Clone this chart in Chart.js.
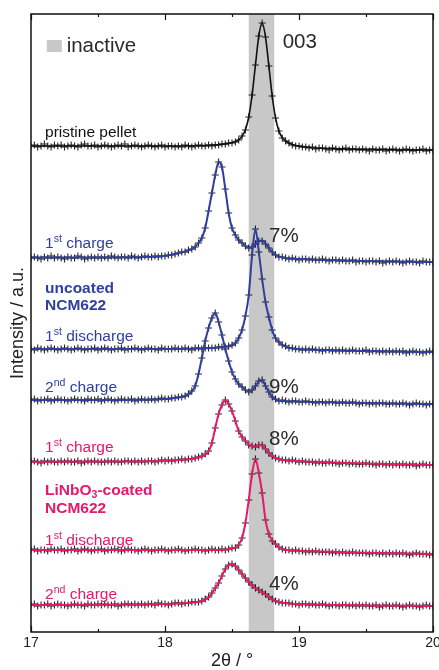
<!DOCTYPE html>
<html>
<head>
<meta charset="utf-8">
<script src="https://cdn.jsdelivr.net/npm/chart.js@4/dist/chart.umd.min.js"></script>
<style>
  html, body { margin: 0; padding: 0; background: #fff; }
  canvas { display: block; }
</style>
</head>
<body>
<canvas id="chart" width="439" height="670"></canvas>
<script>
// scan: 17.000 ... 20.000 deg 2theta, step 0.025 -> 121 points per pattern
const scanStart = 17;
const scanStep = 0.025;

// measured intensities (the + markers), 11 points per row
const pristineObs = [
  4,5,3,4,6,4,3,5,4,5,3,
  4,5,4,3,5,6,4,4,5,3,4,
  5,4,3,4,5,4,6,3,4,5,4,
  3,4,5,4,3,4,5,3,4,4,3,
  4,3,5,4,3,4,5,4,4,5,4,
  5,5,6,6,7,7,8,10,14,20,33,
  55,85,114,127,113,84,54,32,19,12,9,
  7,5,4,4,3,3,2,3,1,2,2,
  1,0,2,1,0,1,2,0,1,1,0,
  1,0,-1,1,0,0,1,-1,0,1,0,
  -1,0,1,0,-1,0,0,1,-1,0,0
];
const uncCharge1Obs = [
  4,5,4,3,5,4,6,4,5,4,3,
  5,4,4,6,5,3,4,5,4,5,4,
  5,4,6,5,4,5,5,4,6,5,4,
  5,6,5,5,6,5,6,6,7,7,8,
  9,10,10,12,13,15,19,24,34,51,69,
  87,100,95,73,49,34,27,22,19,16,14,
  15,18,21,21,18,14,10,7,5,5,4,
  3,4,3,2,3,3,2,3,2,2,3,
  2,1,2,2,1,2,1,1,2,0,1,
  1,0,1,1,0,1,-1,0,1,0,1,
  0,-1,0,1,0,0,-1,1,0,0,0
];
const uncDischarge1Obs = [
  3,2,4,3,2,3,4,3,2,3,4,
  3,2,3,4,3,2,3,3,4,2,3,
  4,3,2,3,3,4,2,3,3,4,3,
  2,3,4,3,3,2,4,3,3,3,4,
  3,3,4,3,2,4,4,3,4,4,4,
  4,5,5,5,6,7,9,14,22,36,57,
  97,123,100,73,50,35,22,14,10,7,6,
  4,4,3,3,2,3,2,3,2,2,1,
  2,2,1,2,1,2,1,1,2,1,1,
  1,2,0,1,1,0,1,0,1,0,1,
  0,1,-1,0,1,0,0,-1,0,1,0
];
const uncCharge2Obs = [
  4,5,3,4,4,5,3,4,5,4,4,
  3,4,5,4,4,3,5,4,4,5,3,
  4,5,4,3,4,5,4,4,5,3,4,
  5,4,4,5,4,5,6,5,5,6,6,
  7,7,8,10,13,18,30,46,63,76,86,
  91,82,69,55,43,32,25,20,17,14,12,
  14,18,23,24,18,12,7,5,3,4,3,
  2,3,3,2,2,3,2,2,1,2,2,
  1,2,2,1,1,2,1,1,2,1,0,
  1,1,0,1,0,1,1,0,0,1,0,
  0,1,0,-1,0,1,0,0,-1,0,0
];
const coatCharge1Obs = [
  3,4,3,2,4,3,4,3,3,4,3,
  4,3,3,4,2,3,4,3,4,3,3,
  3,4,3,4,3,3,4,4,3,4,3,
  4,3,4,4,3,4,5,4,5,4,5,
  5,6,5,6,6,7,8,9,11,14,22,
  37,51,60,65,61,54,44,34,28,24,20,
  19,18,20,20,16,12,9,7,6,5,5,
  4,5,4,3,4,3,3,3,2,3,2,
  2,3,2,2,1,2,2,1,2,1,1,
  1,2,1,1,0,1,1,0,1,0,1,
  0,1,0,0,1,-1,0,1,0,0,0
];
const coatDischarge1Obs = [
  4,5,3,4,4,3,5,4,4,5,3,
  4,4,5,3,4,5,4,3,4,4,5,
  3,4,4,5,4,3,4,5,4,4,3,
  4,5,4,3,4,4,5,4,3,4,4,
  5,4,3,4,4,5,4,4,3,4,5,
  4,4,5,4,5,6,6,9,16,31,54,
  80,95,81,61,34,20,13,10,7,5,4,
  4,3,4,3,3,2,3,2,3,2,2,
  2,2,1,2,1,2,1,1,2,1,1,
  1,1,0,1,1,0,1,0,1,0,1,
  0,1,0,-1,0,1,0,0,0,-1,0
];
const coatCharge2Obs = [
  1,2,0,1,1,2,0,1,2,1,1,
  0,1,2,1,1,0,2,1,1,2,1,
  2,1,1,2,0,1,2,2,1,2,1,
  2,1,2,2,1,3,2,2,1,2,3,
  3,2,3,3,4,4,4,5,7,9,13,
  18,23,30,37,41,42,40,36,32,28,24,
  21,18,16,14,12,9,7,5,4,3,3,
  3,2,2,1,2,2,1,2,1,1,2,
  1,0,1,1,0,1,1,0,1,0,1,
  0,1,0,0,1,-1,0,1,0,0,1,
  0,-1,0,1,0,0,-1,0,1,0,0
];

// fitted profiles (solid lines)
const fitTheta = [17, 17.5, 18, 18.1, 18.15,
  18.2, 18.225, 18.25, 18.275, 18.3, 18.325, 18.35, 18.375, 18.4, 18.425,
  18.45, 18.475, 18.5, 18.525, 18.55, 18.575, 18.6, 18.625, 18.65, 18.675,
  18.7, 18.725, 18.75, 18.775, 18.8, 18.825, 18.85, 18.875, 18.9,
  18.95, 19, 19.1, 19.25, 19.5, 20];
const pristineFit = [4, 4, 4, 4, 4.1,
  4.2, 4.25, 4.3, 4.4, 4.5, 4.7, 4.9, 5.1, 5.4, 5.7,
  6.1, 6.6, 7.3, 8.4, 10.2, 13.6, 20.3, 33, 55, 85,
  114, 127, 113, 84, 54, 32, 19, 12.4, 9,
  5.5, 3.9, 2.3, 1.4, 0.6, 0];
const uncCharge1Fit = [4.5, 4.5, 6, 9, 10.5,
  13, 15.5, 19, 24, 34, 51, 69, 87, 100, 95,
  73, 49, 34, 27, 22, 19, 16, 14, 15, 17.5,
  20.5, 21.5, 18.5, 14, 10, 7, 5.5, 4.5, 4,
  3.2, 3, 2.5, 1.8, 1, 0];
const uncDischarge1Fit = [3, 3, 3, 3.1, 3.2,
  3.3, 3.4, 3.5, 3.6, 3.7, 3.8, 4, 4.2, 4.5, 4.8,
  5.2, 5.7, 6.5, 9, 14, 22, 36, 57, 97, 123,
  100, 73, 50, 35, 22, 14, 10, 7, 5.5,
  3.5, 2.7, 2.3, 1.8, 1, 0];
const uncCharge2Fit = [4, 4, 5, 6.5, 8,
  12.5, 18, 30, 46, 63, 76, 86, 91, 82, 69,
  55, 43, 32, 25, 20, 17, 14, 12.5, 14, 18,
  22.5, 24, 18, 12, 7, 4.5, 3.2, 3, 2.8,
  2.5, 2.4, 2.1, 1.7, 1, 0];
const coatCharge1Fit = [3.3, 3.4, 4.2, 5, 5.5,
  6, 6.7, 7.5, 8.5, 10.5, 13.5, 22, 37, 51, 60,
  65, 61, 54, 44, 34, 28, 24, 20.5, 19, 18.5,
  20, 19.5, 16, 11.5, 9, 7, 6, 5, 4.7,
  4.2, 3.8, 3.2, 2.5, 1.4, 0];
const coatDischarge1Fit = [4, 4, 4, 4, 4,
  4, 4, 4, 4, 4, 4, 4, 4.1, 4.2, 4.3,
  4.6, 5, 5.6, 6.5, 9.5, 16, 31, 54, 80, 95,
  81, 61, 34, 20, 13.5, 10, 6.5, 5, 4.3,
  3.7, 3.3, 2.8, 2.2, 1.3, 0];
const coatCharge2Fit = [1, 1.2, 2, 2.5, 2.9,
  3.3, 3.7, 4.2, 5, 6.5, 8.5, 13, 18, 23, 30,
  37, 41, 42, 40, 36, 32, 28, 24, 20.5, 17.5,
  15.5, 13.5, 11.5, 9, 6.5, 5, 4, 3.3, 2.8,
  2.2, 1.9, 1.5, 1, 0.6, 0];

// stacking offsets, top pattern first
const offsets = [482, 370, 280, 228, 167, 78, 26];

// 2theta range of the inactive reflection
const inactiveBand = [18.625, 18.815];

const xTicksMajor = [17, 18, 19, 20];
const xTicksMinor = [17.5, 18.5, 19.5];

const percentTexts = ['7%', '9%', '8%', '4%'];

const FONT = '"Liberation Sans", Arial, Helvetica, sans-serif';
const BLUE = '#2f3f9f';
const PINK = '#e6186a';

const patterns = [
  {name: 'pristine pellet', obs: pristineObs, fit: pristineFit, color: '#111', width: 1.6},
  {name: 'uncoated 1st charge', obs: uncCharge1Obs, fit: uncCharge1Fit, color: BLUE, width: 2},
  {name: 'uncoated 1st discharge', obs: uncDischarge1Obs, fit: uncDischarge1Fit, color: BLUE, width: 2},
  {name: 'uncoated 2nd charge', obs: uncCharge2Obs, fit: uncCharge2Fit, color: BLUE, width: 2},
  {name: 'coated 1st charge', obs: coatCharge1Obs, fit: coatCharge1Fit, color: PINK, width: 2},
  {name: 'coated 1st discharge', obs: coatDischarge1Obs, fit: coatDischarge1Fit, color: PINK, width: 2},
  {name: 'coated 2nd charge', obs: coatCharge2Obs, fit: coatCharge2Fit, color: PINK, width: 2},
];

// text placed in data units (x = 2theta, y = stacked intensity)
const curveLabels = [
  {parts: [['pristine pellet']], y: 495, color: '#111'},
  {parts: [['1'], ['st', 'sup'], [' charge']], y: 384, color: BLUE},
  {parts: [['uncoated']], y: 339, color: BLUE, bold: true},
  {parts: [['NCM622']], y: 322, color: BLUE, bold: true},
  {parts: [['1'], ['st', 'sup'], [' discharge']], y: 291, color: BLUE},
  {parts: [['2'], ['nd', 'sup'], [' charge']], y: 240, color: BLUE},
  {parts: [['1'], ['st', 'sup'], [' charge']], y: 180, color: PINK},
  {parts: [['LiNbO'], ['3', 'sub'], ['-coated']], y: 137.5, color: PINK, bold: true},
  {parts: [['NCM622']], y: 119.5, color: PINK, bold: true},
  {parts: [['1'], ['st', 'sup'], [' discharge']], y: 87, color: PINK},
  {parts: [['2'], ['nd', 'sup'], [' charge']], y: 33, color: PINK},
];
const percentY = [390, 239, 187, 42];

function drawRich(ctx, x, y, parts, size, color, bold) {
  ctx.fillStyle = color;
  ctx.textAlign = 'left';
  ctx.textBaseline = 'alphabetic';
  for (const [t, kind] of parts) {
    const s = kind ? size * 0.68 : size;
    const dy = kind === 'sup' ? -size * 0.36 : kind === 'sub' ? size * 0.2 : 0;
    ctx.font = (bold ? 'bold ' : '') + s + 'px ' + FONT;
    ctx.fillText(t, x, y + dy);
    x += ctx.measureText(t).width;
  }
}

const decorations = {
  id: 'decorations',
  beforeDatasetsDraw(chart) {
    const {ctx, chartArea: a, scales: {x}} = chart;
    const x1 = x.getPixelForValue(inactiveBand[0]);
    const x2 = x.getPixelForValue(inactiveBand[1]);
    ctx.save();
    ctx.fillStyle = '#c8c8c8';
    ctx.fillRect(x1, a.top, x2 - x1, a.bottom - a.top);
    ctx.restore();
  },
  afterDatasetsDraw(chart) {
    const {ctx, chartArea: a, scales: {x, y}} = chart;
    ctx.save();

    // frame + inward ticks
    ctx.strokeStyle = '#111';
    ctx.lineWidth = 1.5;
    ctx.strokeRect(a.left, a.top, a.right - a.left, a.bottom - a.top);
    ctx.lineWidth = 1.2;
    const tick = (v, len) => {
      const px = Math.round(x.getPixelForValue(v)) + 0.5;
      ctx.beginPath();
      ctx.moveTo(px, a.bottom); ctx.lineTo(px, a.bottom - len);
      ctx.moveTo(px, a.top); ctx.lineTo(px, a.top + len);
      ctx.stroke();
    };
    xTicksMajor.forEach(v => tick(v, 6));
    xTicksMinor.forEach(v => tick(v, 3));

    // legend for the grey band
    const lx = x.getPixelForValue(17.118);
    const ly = y.getPixelForValue(592);
    ctx.fillStyle = '#c8c8c8';
    ctx.fillRect(lx, ly, 15, 12);
    drawRich(ctx, x.getPixelForValue(17.266), y.getPixelForValue(580), [['inactive']], 20.5, '#2a2a2a');

    drawRich(ctx, x.getPixelForValue(18.878), y.getPixelForValue(584), [['003']], 20.5, '#2a2a2a');

    percentTexts.forEach((t, i) => {
      drawRich(ctx, x.getPixelForValue(18.776), y.getPixelForValue(percentY[i]), [[t]], 20.5, '#2a2a2a');
    });

    curveLabels.forEach(l => {
      drawRich(ctx, x.getPixelForValue(17.105), y.getPixelForValue(l.y), l.parts, 15.5, l.color, l.bold);
    });

    ctx.restore();
  }
};

const datasets = [];
patterns.forEach((p, k) => {
  datasets.push({
    label: p.name + ' (fit)',
    data: fitTheta.map((t, i) => ({x: t, y: p.fit[i] + offsets[k]})),
    borderColor: p.color,
    borderWidth: p.width,
    pointRadius: 0,
    cubicInterpolationMode: 'monotone',
    fill: false,
    order: 0
  });
  datasets.push({
    label: p.name,
    data: p.obs.map((v, i) => ({x: scanStart + i * scanStep, y: v + offsets[k]})),
    showLine: false,
    pointStyle: 'cross',
    pointRadius: 3.5,
    borderWidth: 1.1,
    borderColor: 'rgba(0,0,0,0.85)',
    order: 1
  });
});

Chart.defaults.font.family = FONT;

new Chart(document.getElementById('chart'), {
  type: 'line',
  data: {datasets: datasets},
  options: {
    responsive: false,
    animation: false,
    devicePixelRatio: 1,
    events: [],
    layout: {padding: {top: 14, right: 6, left: 0, bottom: 0}},
    plugins: {legend: {display: false}, tooltip: {enabled: false}},
    scales: {
      x: {
        type: 'linear',
        min: 17,
        max: 20,
        grid: {display: false, drawTicks: false},
        border: {display: false},
        ticks: {stepSize: 1, padding: 3, color: '#222', font: {size: 14}, maxRotation: 0},
        title: {display: true, text: '2θ / °', color: '#222', font: {size: 18, lineHeight: 1}, padding: {top: 0, bottom: 0}},
        afterFit(s) { s.height = 38; s.paddingLeft = 0; s.paddingRight = 0; }
      },
      y: {
        min: 0,
        max: 618,
        grid: {display: false, drawTicks: false},
        border: {display: false},
        ticks: {display: false},
        title: {display: true, text: 'Intensity / a.u.', color: '#222', font: {size: 18}, padding: {top: 7, bottom: 0}},
        afterFit(s) { s.width = 31; }
      }
    }
  },
  plugins: [decorations]
});
</script>
</body>
</html>
